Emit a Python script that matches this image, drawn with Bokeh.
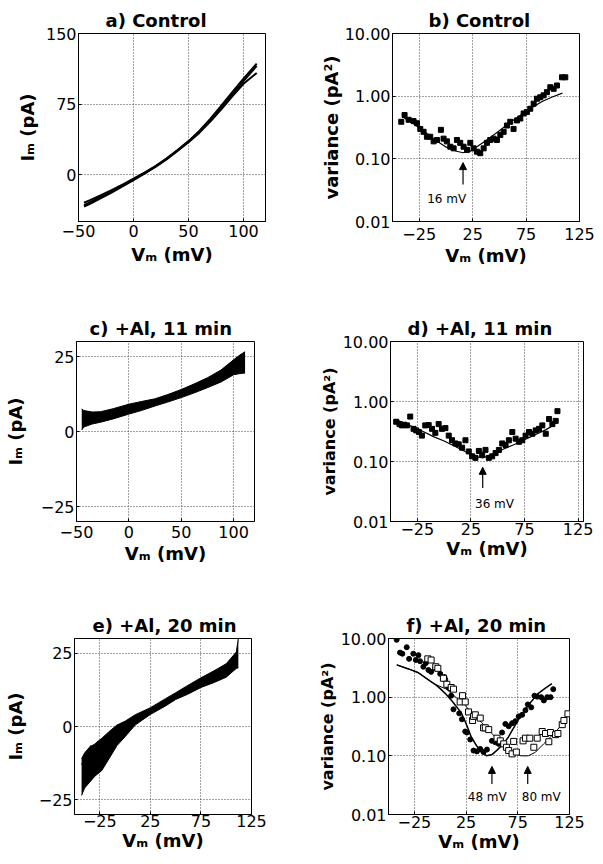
from bokeh.plotting import figure
from bokeh.models import Range1d, FixedTicker, NumeralTickFormatter, Arrow, NormalHead, Label
from bokeh.layouts import column, row
from bokeh.embed import file_html
from bokeh.resources import INLINE

FONT = "DejaVu Sans"

# ---------------- data ----------------
# a) Control I-V traces
va = [-45, -40, -30, -20, -10, 0, 10, 20, 30, 40, 50, 60, 70, 80, 90, 100, 112]
ia1 = [-32.5, -29.75, -24, -18, -11.7, -5.2, 1.5, 8.6, 16.6, 25.5, 34.9, 45.4, 57.8, 71.5, 85.8, 99.4, 115.5]
ia2 = [-30, -27.5, -22.3, -16.7, -10.7, -4.5, 2, 9, 17, 26, 35.5, 46.5, 59.3, 73.5, 88, 102, 118]
ia3 = [-34, -31.5, -25.5, -19.3, -12.7, -6, 0.9, 8.1, 16.1, 25, 34.3, 44.5, 56.5, 69.5, 83.5, 96.5, 108]

# b) Control variance
vb = [-41.8, -38.7, -34.9, -30.3, -27.1, -24.0, -20.9, -17.8, -14.7, -11.5, -8.4, -4.7, -2.2, 0.9,
      4.1, 7.2, 10.3, 13.4, 16.5, 19.7, 22.8, 25.9, 29.0, 32.1, 35.3, 38.4, 41.5, 44.6, 47.7, 50.9,
      54.0, 57.1, 60.2, 63.3, 66.5, 69.6, 72.7, 75.8, 78.9, 82.1, 85.2, 88.3, 91.4, 94.5, 97.7,
      100.8, 103.9, 108.6, 111.7]
varb = [0.39, 0.50, 0.42, 0.40, 0.37, 0.30, 0.27, 0.225, 0.225, 0.19, 0.20, 0.29, 0.21, 0.19,
        0.156, 0.147, 0.20, 0.18, 0.156, 0.139, 0.18, 0.147, 0.13, 0.123, 0.147, 0.18, 0.20, 0.21,
        0.20, 0.24, 0.27, 0.34, 0.39, 0.30, 0.41, 0.44, 0.53, 0.56, 0.63, 0.76, 0.91, 0.96, 1.03,
        1.16, 1.39, 1.31, 1.48, 2.0, 2.0]
vb_fit = [-39, -30, -20, -10, 0, 10, 16, 22, 30, 40, 50, 60, 70, 80, 90, 100, 109]
varb_fit = [0.45, 0.36, 0.27, 0.2, 0.155, 0.132, 0.125, 0.13, 0.16, 0.21, 0.28, 0.38, 0.5, 0.65,
            0.82, 0.98, 1.12]

# c) +Al 11 min I-V band
vc = [-45, -43, -35, -27, -15, 0, 12, 25, 37, 50, 62, 75, 88, 100, 106, 111]
ic_low = [0.5, 1.5, 2.5, 3.1, 4.2, 5.8, 7.0, 8.5, 9.8, 11.3, 12.8, 14.6, 16.5, 18.9, 19.3, 19.5]
ic_high = [7.5, 7.0, 6.5, 6.6, 7.6, 9.1, 10.0, 10.9, 12.3, 14.0, 15.8, 17.9, 20.5, 23.9, 25.5, 26.6]

# d) +Al 11 min variance
vd = [-44.7, -41.6, -39.4, -37.2, -34.7, -31.6, -28.5, -26.0, -23.5, -20.7, -17.6, -14.4, -11.3,
      -8.2, -5.1, -2.0, 1.2, 4.3, 7.4, 10.5, 13.6, 16.8, 19.9, 23.0, 26.1, 29.2, 32.4, 35.5, 38.6,
      41.7, 44.8, 48.0, 51.1, 54.2, 57.3, 60.4, 63.6, 66.7, 69.8, 72.9, 76.0, 79.2, 82.3, 85.4,
      88.5, 91.6, 94.8, 97.9, 101.0, 104.1, 105.7]
vard = [0.46, 0.42, 0.40, 0.41, 0.40, 0.56, 0.35, 0.33, 0.31, 0.27, 0.40, 0.405, 0.35, 0.30, 0.42,
        0.35, 0.36, 0.27, 0.226, 0.20, 0.193, 0.17, 0.226, 0.147, 0.122, 0.115, 0.15, 0.13, 0.156,
        0.115, 0.122, 0.138, 0.156, 0.20, 0.188, 0.226, 0.31, 0.24, 0.213, 0.226, 0.27, 0.31, 0.29,
        0.33, 0.35, 0.40, 0.29, 0.51, 0.42, 0.475, 0.69]
vd_fit = [-45, -35, -20, -10, 0, 10, 20, 30, 36, 45, 55, 65, 75, 85, 95, 103]
vard_fit = [0.5, 0.42, 0.32, 0.26, 0.22, 0.18, 0.145, 0.12, 0.115, 0.13, 0.16, 0.19, 0.23, 0.28,
            0.34, 0.41]

# e) +Al 20 min I-V band
ve = [-43, -40, -35, -30, -23, -15, -8, 0, 10, 25, 40, 50, 62, 75, 88, 100, 110, 112]
ie_low = [-23.5, -21, -19, -17, -15, -10.5, -6.5, -3.5, 0.5, 4.1, 7.0, 9.2, 11, 13.3, 15, 16.8, 19.8, 20]
ie_high = [-11, -9, -7, -6, -4, -1.5, 0.5, 1.8, 4, 6.4, 9.5, 11.5, 14, 16.6, 19, 21.4, 25.4, 30]
ve_out = [-43, -38, -34, -30, -27, -24]
ie_out = [-13, -9, -6.5, -7.5, -5, -6]

# f) +Al 20 min variance, two series
vf_c = [-42.1, -38.9, -36.6, -32.4, -30.1, -26, -23.6, -21.1, -19.5, -16.3, -14, -11.4, -8.8, -4.9,
        0, 4.1, 4.8, 8, 10.6, 12.8, 18.4, 21, 24.2, 25.8, 29, 32.2, 35.5, 38.7, 41.9, 45.2, 50,
        53.3, 56.5, 59.8, 63, 66.2, 69.5, 72.7, 75.9, 79.2, 82.4, 84.7, 88, 91.1, 93.8, 97.6,
        100.2, 103.5, 106.7, 109.3]
varf_c = [9.5, 5.75, 5.5, 7.1, 4.5, 5.5, 4.3, 5.2, 4.1, 3.3, 3.8, 2.9, 2.7, 3.1, 2.5, 2.2, 2.0, 1.46,
          1.06, 0.62, 0.53, 0.42, 0.26, 0.25, 0.19, 0.123, 0.119, 0.131, 0.116, 0.128, 0.18, 0.17,
          0.16, 0.25, 0.35, 0.32, 0.36, 0.39, 0.47, 0.50, 0.60, 0.75, 0.67, 1.06, 1.02, 1.0, 0.88,
          1.0, 1.0, 1.37]
vf_s = [-12, -8.8, -4.3, -2.3, 3.1, 6.4, 10.6, 12.8, 19.3, 21.6, 24.2, 27.4, 31.3, 32.2, 33.9, 38.7,
        41.9, 43.6, 46.9, 54.9, 58.1, 61.4, 64, 66.2, 69.5, 71, 73.6, 80.1, 82.4, 86.6, 90.5, 93.8,
        98.6, 101.8, 105, 106.7, 111.5, 113.8, 118, 119.6, 123.5]
varf_s = [4.5, 4.3, 3.3, 3.1, 2.1, 1.66, 1.46, 1.37, 0.83, 1.06, 0.83, 0.56, 0.40, 0.47, 0.50, 0.44,
          0.30, 0.30, 0.28, 0.20, 0.18, 0.16, 0.14, 0.123, 0.108, 0.176, 0.116, 0.18, 0.20, 0.20,
          0.14, 0.20, 0.26, 0.24, 0.174, 0.25, 0.23, 0.24, 0.34, 0.40, 0.52]
vf_cfit = [-42, -30, -21, -10, -5, 0, 5, 11, 16, 20, 24, 27, 30, 35, 40, 45, 50, 55, 61, 66, 70,
           77.5, 85, 94, 101, 108]
varf_cfit = [3.55, 3.0, 2.6, 1.9, 1.66, 1.4, 1.15, 0.88, 0.68, 0.55, 0.39, 0.29, 0.21, 0.15, 0.115,
             0.10, 0.105, 0.125, 0.16, 0.21, 0.28, 0.47, 0.72, 1.13, 1.4, 1.7]
vf_sfit = [-42, -30, -21, -10, -5, 6, 15, 24, 32, 40, 50, 58, 65, 72, 78, 85, 92, 100, 110, 117, 123]
varf_sfit = [3.55, 3.0, 2.6, 1.9, 1.66, 1.37, 1.0, 0.73, 0.5, 0.37, 0.24, 0.17, 0.13, 0.11, 0.10,
             0.10, 0.115, 0.16, 0.24, 0.33, 0.47]

# tick values / labels
lin_x_ticks = [-50, 0, 50, 100]
var_x_ticks = [-25, 25, 75, 125]
ia_ticks = [0, 75, 150]
ice_ticks = [-25, 0, 25]
var_ticks = [0.01, 0.1, 1, 10]

# annotations (mV marks)
b_mark, d_mark, f_mark1, f_mark2 = 16, 36, 50, 84.6
b_text, d_text, f_text1, f_text2 = "16 mV", "36 mV", "48 mV", "80 mV"

XLABEL = "V\u2098 (mV)"
ILABEL = "I\u2098 (pA)"
VLABEL = "variance (pA\u00b2)"


def make_fig(title, w, h, l, r, t, b, xr, yr, xticks, yticks, log=False,
             ylab=ILABEL, ystand=0, toff=0, xls=7, xas=5, ylsize="18px"):
    p = figure(width=w, height=h, min_border_left=l, min_border_right=r,
               min_border_top=t, min_border_bottom=b,
               x_range=Range1d(*xr), y_range=Range1d(*yr),
               y_axis_type="log" if log else "linear",
               output_backend="svg", toolbar_location=None)
    p.background_fill_color = "white"
    p.border_fill_color = "white"
    p.outline_line_color = "black"
    p.outline_line_width = 1
    p.outline_line_alpha = 1
    p.title.text = title
    p.title.text_font = FONT
    p.title.text_font_style = "bold"
    p.title.text_font_size = "18px"
    p.title.text_color = "black"
    p.title.align = "left"
    p.title.offset = toff
    p.title.standoff = 5
    p.xaxis.ticker = FixedTicker(ticks=xticks)
    p.yaxis.ticker = FixedTicker(ticks=yticks)
    p.xgrid.ticker = FixedTicker(ticks=xticks)
    p.ygrid.ticker = FixedTicker(ticks=yticks)
    if log:
        p.yaxis.formatter = NumeralTickFormatter(format="0.00")
    for ax in (p.xaxis, p.yaxis):
        ax.axis_line_color = "black"
        ax.major_tick_in = 3
        ax.major_tick_out = 0
        ax.minor_tick_line_color = None
        ax.major_tick_line_color = "black"
        ax.major_label_text_font = FONT
        ax.major_label_text_font_size = "16px"
        ax.major_label_text_color = "black"
        ax.axis_label_text_font = FONT
        ax.axis_label_text_font_style = "bold"
        ax.axis_label_text_font_size = "18px"
        ax.axis_label_text_color = "black"
    p.yaxis.axis_label_text_font_size = ylsize
    p.xaxis.axis_label = XLABEL
    p.yaxis.axis_label = ylab
    p.xaxis.major_label_standoff = xls
    p.xaxis.axis_label_standoff = xas
    p.yaxis.major_label_standoff = 2
    p.yaxis.axis_label_standoff = ystand
    p.grid.grid_line_color = "#444444"
    p.grid.grid_line_dash = "1 2"
    p.grid.grid_line_width = 1
    p.grid.minor_grid_line_color = None
    return p


def mark(p, x, y0, y1, text, tx, ty):
    p.add_layout(Arrow(end=NormalHead(size=7, fill_color="black", line_color="black"),
                       x_start=x, y_start=y0, x_end=x, y_end=y1,
                       line_color="black", line_width=1.2))
    p.add_layout(Label(x=tx, y=ty, text=text, text_font=FONT, text_font_size="12px",
                       text_align="center", text_baseline="middle", text_color="black"))


# row 1: 0..285
pa = make_fig("a) Control", 300, 285, 78, 35, 33, 64, (-50, 120), (-50, 150),
              lin_x_ticks, ia_ticks, ystand=5, toff=27, xls=3, xas=4)
for ii in (ia1, ia2, ia3):
    pa.line(va, ii, line_color="black", line_width=2)

pb = make_fig("b) Control", 302, 285, 92, 23, 33, 62, (-50, 125), (0.01, 10),
              var_x_ticks, var_ticks, log=True, ylab=VLABEL, ystand=0, toff=36, xls=6, xas=2)
pb.line(vb_fit, varb_fit, line_color="black", line_width=1.2)
pb.scatter(vb, varb, marker="square", size=5, fill_color="black", line_color="black")
mark(pb, b_mark, 0.039, 0.087, b_text, 0.7, 0.023)

# row 2: 285..577
pc = make_fig("c)  +Al, 11 min", 300, 292, 76, 46, 56, 56, (-50, 120), (-30, 30),
              lin_x_ticks, ice_ticks, ystand=12, toff=13, xls=4, xas=2)
pc.varea(x=vc, y1=ic_low, y2=ic_high, fill_color="black")
pc.line(vc, ic_low, line_color="black", line_width=1)
pc.line(vc, ic_high, line_color="black", line_width=1)

pd = make_fig("d)  +Al, 11 min", 302, 292, 90, 19, 56, 50, (-50, 130), (0.01, 10),
              var_x_ticks, var_ticks, log=True, ylab=VLABEL, ystand=1, toff=17, xls=1, xas=0,
              ylsize="16px")
pd.line(vd_fit, vard_fit, line_color="black", line_width=1.2)
pd.scatter(vd, vard, marker="square", size=5, fill_color="black", line_color="black")
mark(pd, d_mark, 0.036, 0.080, d_text, 47, 0.0194)

# row 3: 577..864
pe = make_fig("e)  +Al, 20 min", 300, 287, 74, 49, 61, 49, (-50, 125), (-30, 30),
              var_x_ticks, ice_ticks, ystand=10, toff=18, xls=0, xas=0)
pe.varea(x=ve, y1=ie_low, y2=ie_high, fill_color="black")
pe.line(ve, ie_low, line_color="black", line_width=1)
pe.line(ve, ie_high, line_color="black", line_width=1)
pe.line(ve_out, ie_out, line_color="black", line_width=1)

pf = make_fig("f)  +Al, 20 min", 302, 287, 88, 33, 56, 50, (-50, 125), (0.01, 10),
              var_x_ticks, var_ticks, log=True, ylab=VLABEL, ystand=1, toff=18, xls=1, xas=0,
              ylsize="16px")
pf.line(vf_cfit, varf_cfit, line_color="black", line_width=1.5)
pf.line(vf_sfit, varf_sfit, line_color="black", line_width=1)
pf.scatter(vf_c, varf_c, marker="circle", size=5, fill_color="black", line_color="black")
pf.scatter(vf_s, varf_s, marker="square", size=6, fill_color="white", line_color="black")
mark(pf, f_mark1, 0.033, 0.066, f_text1, 45.5, 0.020)
mark(pf, f_mark2, 0.033, 0.066, f_text2, 97.7, 0.020)

layout = column(row(pa, pb), row(pc, pd), row(pe, pf))
open("out.html", "w").write(file_html(layout, INLINE))
